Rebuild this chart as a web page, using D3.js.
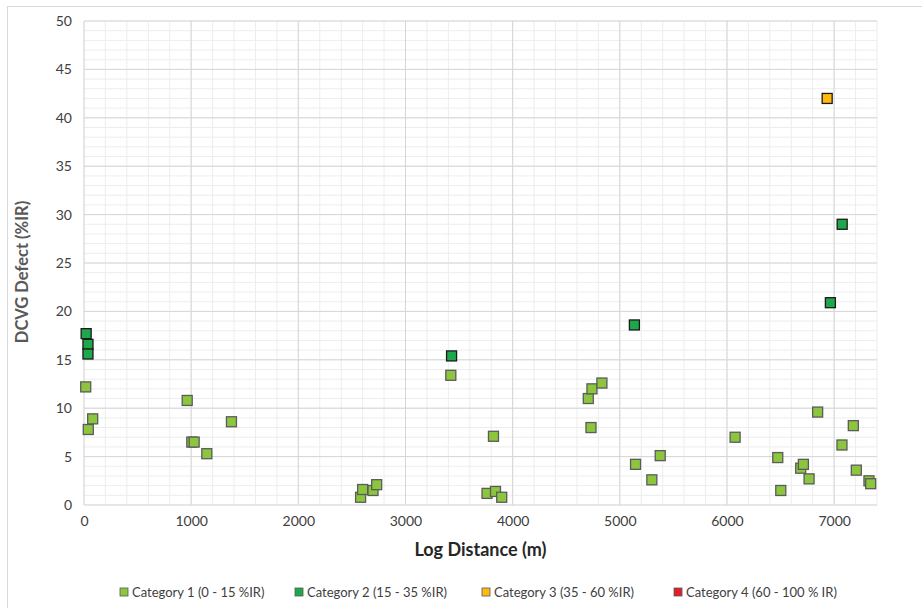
<!DOCTYPE html>
<html>
<head>
<meta charset="utf-8">
<script src="https://cdn.jsdelivr.net/npm/d3@7"></script>
<style>
  body { margin: 0; background: #fff; }
  svg { display: block; font-family: Lato, "Open Sans", sans-serif; }
</style>
</head>
<body>
<svg id="chart" width="922" height="608"></svg>
<script>
// series values: [distance (m), defect (%IR)]
const cat1 = [
    [16, 12.2], [40, 7.8], [81, 8.9], [963, 10.8], [1006, 6.5], [1028, 6.5],
    [1146, 5.3], [1376, 8.6], [2581, 0.8], [2600, 1.6], [2697, 1.5], [2731, 2.1],
    [3423, 13.4], [3761, 1.2], [3821, 7.1], [3840, 1.4], [3898, 0.8],
    [4706, 11.0], [4731, 8.0], [4740, 12.0], [4833, 12.6], [5147, 4.2],
    [5299, 2.6], [5377, 5.1], [6076, 7.0], [6474, 4.9], [6502, 1.5],
    [6688, 3.8], [6713, 4.2], [6766, 2.7], [6846, 9.6], [7073, 6.2],
    [7179, 8.2], [7207, 3.6], [7325, 2.5], [7341, 2.2]
];
const cat2 = [
    [20, 17.7], [37, 16.6], [37, 15.6], [3430, 15.4], [5136, 18.6],
    [6965, 20.9], [7075, 29.0]
];
const cat3 = [[6935, 42.0]];
const cat4 = [];

const seriesNames = [
    "Category 1 (0 - 15 %IR)",
    "Category 2 (15 - 35 %IR)",
    "Category 3 (35 - 60 %IR)",
    "Category 4 (60 - 100 % IR)"
];
const seriesColors = ["#8cc63f", "#1ea84b", "#ffb90f", "#e3202a"];
const seriesStrokes = ["#5b5b5b", "#1a1a1a", "#1a1a1a", "#1a1a1a"];
const seriesData = [cat1, cat2, cat3, cat4];

const xTicks = [0, 1000, 2000, 3000, 4000, 5000, 6000, 7000];
const yTicks = [0, 5, 10, 15, 20, 25, 30, 35, 40, 45, 50];

const svg = d3.select("#chart");
const plotLeft = 84, plotTop = 21, plotRight = 877, plotBottom = 505;

const x = d3.scaleLinear().domain([0, 7400]).range([plotLeft, plotRight]);
const y = d3.scaleLinear().domain([0, 50]).range([plotBottom, plotTop]);

// outer chart frame
svg.append("rect")
    .attr("x", 7.5).attr("y", 6.5)
    .attr("width", 1000).attr("height", 700)
    .attr("fill", "none").attr("stroke", "#d9d9d9");

// minor grid
svg.append("g")
    .selectAll("line")
    .data(d3.range(0, 7401, 200))
    .join("line")
    .attr("x1", d => x(d)).attr("x2", d => x(d))
    .attr("y1", plotTop).attr("y2", plotBottom)
    .attr("stroke", "#ededed").attr("stroke-width", 1);
svg.append("g")
    .selectAll("line")
    .data(d3.range(0, 51, 1))
    .join("line")
    .attr("x1", plotLeft).attr("x2", plotRight)
    .attr("y1", d => y(d)).attr("y2", d => y(d))
    .attr("stroke", "#ededed").attr("stroke-width", 1);

// major grid
svg.append("g")
    .selectAll("line")
    .data(xTicks)
    .join("line")
    .attr("x1", d => x(d)).attr("x2", d => x(d))
    .attr("y1", plotTop).attr("y2", plotBottom)
    .attr("stroke", "#d6d6d6");
svg.append("g")
    .selectAll("line")
    .data(yTicks)
    .join("line")
    .attr("x1", plotLeft).attr("x2", plotRight)
    .attr("y1", d => y(d)).attr("y2", d => y(d))
    .attr("stroke", "#d6d6d6");

// axes (labels only, Excel style)
const xAxis = svg.append("g")
    .attr("transform", `translate(0,${plotBottom})`)
    .call(d3.axisBottom(x).tickValues(xTicks).tickFormat(d3.format("d"))
        .tickSize(0).tickPadding(11));
const yAxis = svg.append("g")
    .attr("transform", `translate(${plotLeft},0)`)
    .call(d3.axisLeft(y).tickValues(yTicks).tickSize(0).tickPadding(12));
[xAxis, yAxis].forEach(a => {
    a.select(".domain").remove();
    a.selectAll("text")
        .attr("fill", "#404040")
        .style("font-size", "14px")
        .style("font-family", "Lato, 'Open Sans', sans-serif");
});

// points
seriesData.forEach((data, i) => {
    svg.append("g")
        .selectAll("rect")
        .data(data)
        .join("rect")
        .attr("x", d => x(d[0]) - 5)
        .attr("y", d => y(d[1]) - 5)
        .attr("width", 10).attr("height", 10)
        .attr("fill", seriesColors[i])
        .attr("stroke", seriesStrokes[i])
        .attr("stroke-width", 1.3);
});

// axis titles
svg.append("text")
    .attr("x", (plotLeft + plotRight) / 2).attr("y", 556)
    .attr("text-anchor", "middle")
    .attr("fill", "#262626")
    .style("font-size", "18px").style("font-weight", "bold")
    .text("Log Distance  (m)");
svg.append("text")
    .attr("transform", "translate(28,272) rotate(-90)")
    .attr("text-anchor", "middle")
    .attr("fill", "#595959")
    .style("font-size", "16.5px").style("font-weight", "bold")
    .text("DCVG Defect (%IR)");

// legend
const legendX = [120, 295, 482, 674];
const legend = svg.append("g");
seriesNames.forEach((name, i) => {
    const g = legend.append("g").attr("transform", `translate(${legendX[i]},592)`);
    g.append("rect")
        .attr("x", 0).attr("y", -4)
        .attr("width", 8).attr("height", 8)
        .attr("fill", seriesColors[i])
        .attr("stroke", "#595959").attr("stroke-width", 0.8);
    g.append("text")
        .attr("x", 12).attr("y", 5)
        .attr("fill", "#404040")
        .style("font-size", "13px")
        .text(name);
});
</script>
</body>
</html>
